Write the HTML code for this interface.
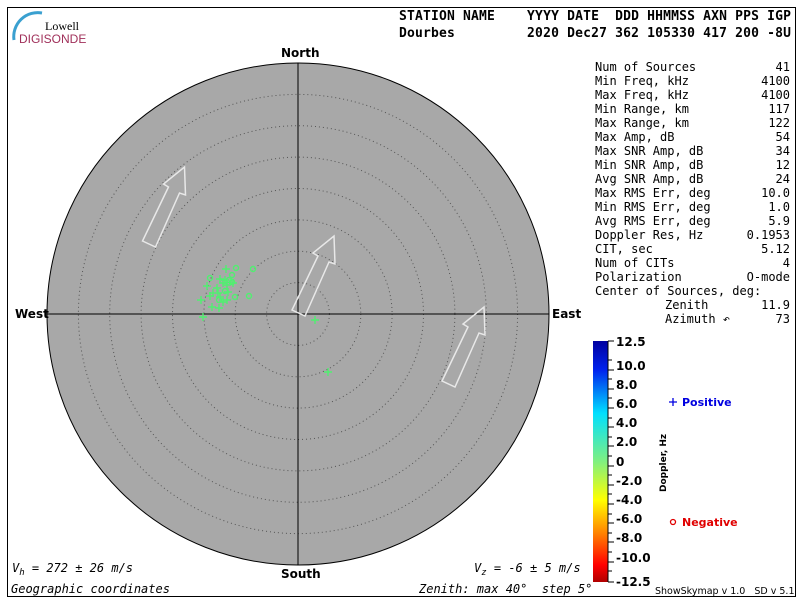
<!DOCTYPE html>
<html><head><style>
body{margin:0;width:800px;height:600px;background:#fff;overflow:hidden}
svg text{font-family:"DejaVu Sans Mono","Liberation Mono",monospace;font-size:12px;fill:#000;white-space:pre}
</style></head><body>
<svg width="800" height="600" xmlns="http://www.w3.org/2000/svg" xml:space="preserve">
<defs>
<linearGradient id="cb" x1="0" y1="0" x2="0" y2="1">
<stop offset="0" stop-color="#0000a0"/><stop offset="0.12" stop-color="#0022ee"/>
<stop offset="0.3" stop-color="#00e0ff"/><stop offset="0.5" stop-color="#80f080"/>
<stop offset="0.66" stop-color="#ffff00"/><stop offset="0.8" stop-color="#ff8000"/>
<stop offset="0.93" stop-color="#ff0000"/><stop offset="1" stop-color="#b00000"/>
</linearGradient>
<g id="arr"><polygon points="-6,-3 7,3 31,-51 37,-49 36,-77 15,-60 20,-57" fill="none" stroke="#e8e8e8" stroke-width="1.5"/></g>
</defs>
<rect x="7.5" y="7.5" width="788" height="589" fill="none" stroke="#000"/>
<path d="M14,40 A24,24 0 0 1 42,13" fill="none" stroke="#3aa0d0" stroke-width="3"/>
<text x="45" y="30" style="font-family:'Liberation Serif',serif;font-size:12px">Lowell</text>
<text x="19" y="43" style="font-family:'Liberation Sans',sans-serif;font-size:12px;fill:#a0305a">DIGISONDE</text>
<text x="399" y="20" style="font-weight:bold;font-size:13px" textLength="392">STATION NAME    YYYY DATE  DDD HHMMSS AXN PPS IGP</text>
<text x="399" y="37" style="font-weight:bold;font-size:13px" textLength="392">Dourbes         2020 Dec27 362 105330 417 200 -8U</text>
<circle cx="298" cy="314" r="251" fill="#a8a8a8" stroke="#000"/>
<g fill="none" stroke="#555" stroke-width="1" stroke-dasharray="1,3">
<circle cx="298" cy="314" r="31.4"/><circle cx="298" cy="314" r="62.8"/><circle cx="298" cy="314" r="94.1"/><circle cx="298" cy="314" r="125.5"/><circle cx="298" cy="314" r="156.9"/><circle cx="298" cy="314" r="188.3"/><circle cx="298" cy="314" r="219.6"/></g>
<line x1="47" y1="314" x2="549" y2="314" stroke="#000"/><line x1="298" y1="63" x2="298" y2="565" stroke="#000"/>
<g style="font-weight:bold"><text x="281" y="57" style="font-family:'DejaVu Sans',sans-serif;font-weight:bold">North</text>
<text x="281" y="578" style="font-family:'DejaVu Sans',sans-serif;font-weight:bold">South</text>
<text x="15" y="318" style="font-family:'DejaVu Sans',sans-serif;font-weight:bold">West</text>
<text x="552" y="318" style="font-family:'DejaVu Sans',sans-serif;font-weight:bold">East</text></g>
<use href="#arr" x="148.5" y="244"/><use href="#arr" x="298" y="313"/><use href="#arr" x="448" y="384"/>
<g stroke="#50f070" stroke-width="1.4" fill="none">
<path d="M222,269h8M226,265v8 M216,279h8M220,275v8 M203,286h8M207,282v8 M219,283h8M223,279v8 M223,285h8M227,281v8 M229,283h8M233,279v8 M221,280h8M225,276v8 M209,293h8M213,289v8 M214,293h8M218,289v8 M224,292h8M228,288v8 M206,296h8M210,292v8 M216,297h8M220,293v8 M197,300h8M201,296v8 M219,302h8M223,298v8 M208,307h8M212,303v8 M215,308h8M219,304v8 M199,317h8M203,313v8 M311,320h8M315,316v8 M324,372h8M328,368v8 M213,288h8M217,284v8 M223,300h8M227,296v8"/>
<circle cx="236" cy="268" r="2.5"/><circle cx="253" cy="269" r="2.5"/><circle cx="232" cy="275" r="2.5"/><circle cx="210" cy="278" r="2.5"/><circle cx="229" cy="280" r="2.5"/><circle cx="232" cy="282" r="2.5"/><circle cx="249" cy="296" r="2.5"/><circle cx="235" cy="297" r="2.5"/><circle cx="225" cy="291" r="2.5"/><circle cx="219" cy="300" r="2.5"/>
</g>
<g style="font-size:11.5px">
<text x="595" y="71">Num of Sources</text><text x="790" y="71" text-anchor="end">41</text>
<text x="595" y="85">Min Freq, kHz</text><text x="790" y="85" text-anchor="end">4100</text>
<text x="595" y="99">Max Freq, kHz</text><text x="790" y="99" text-anchor="end">4100</text>
<text x="595" y="113">Min Range, km</text><text x="790" y="113" text-anchor="end">117</text>
<text x="595" y="127">Max Range, km</text><text x="790" y="127" text-anchor="end">122</text>
<text x="595" y="141">Max Amp, dB</text><text x="790" y="141" text-anchor="end">54</text>
<text x="595" y="155">Max SNR Amp, dB</text><text x="790" y="155" text-anchor="end">34</text>
<text x="595" y="169">Min SNR Amp, dB</text><text x="790" y="169" text-anchor="end">12</text>
<text x="595" y="183">Avg SNR Amp, dB</text><text x="790" y="183" text-anchor="end">24</text>
<text x="595" y="197">Max RMS Err, deg</text><text x="790" y="197" text-anchor="end">10.0</text>
<text x="595" y="211">Min RMS Err, deg</text><text x="790" y="211" text-anchor="end">1.0</text>
<text x="595" y="225">Avg RMS Err, deg</text><text x="790" y="225" text-anchor="end">5.9</text>
<text x="595" y="239">Doppler Res, Hz</text><text x="790" y="239" text-anchor="end">0.1953</text>
<text x="595" y="253">CIT, sec</text><text x="790" y="253" text-anchor="end">5.12</text>
<text x="595" y="267">Num of CITs</text><text x="790" y="267" text-anchor="end">4</text>
<text x="595" y="281">Polarization</text><text x="790" y="281" text-anchor="end">O-mode</text>
<text x="595" y="295">Center of Sources, deg:</text>
<text x="665" y="309">Zenith</text><text x="790" y="309" text-anchor="end">11.9</text>
<text x="665" y="323">Azimuth ↶</text><text x="790" y="323" text-anchor="end">73</text>
</g>
<rect x="593" y="341" width="15" height="241" fill="url(#cb)"/>
<line x1="608" y1="341" x2="608" y2="582" stroke="#000"/>
<g stroke="#000"><path d="M608,341h6M608,360h4M608,370h6M608,379h4M608,389h6M608,398h4M608,408h6M608,418h4M608,427h6M608,437h4M608,446h6M608,456h4M608,466h6M608,475h4M608,485h6M608,494h4M608,504h6M608,514h4M608,523h6M608,533h4M608,542h6M608,552h4M608,562h6M608,571h4M608,582h6"/></g>
<g style="font-family:'DejaVu Sans',sans-serif;font-weight:bold;font-size:12px">
<text x="616" y="346" style="font-family:'DejaVu Sans',sans-serif">12.5</text><text x="616" y="370" style="font-family:'DejaVu Sans',sans-serif">10.0</text><text x="616" y="389" style="font-family:'DejaVu Sans',sans-serif">8.0</text><text x="616" y="408" style="font-family:'DejaVu Sans',sans-serif">6.0</text><text x="616" y="427" style="font-family:'DejaVu Sans',sans-serif">4.0</text><text x="616" y="446" style="font-family:'DejaVu Sans',sans-serif">2.0</text><text x="616" y="466" style="font-family:'DejaVu Sans',sans-serif">0</text><text x="616" y="485" style="font-family:'DejaVu Sans',sans-serif">-2.0</text><text x="616" y="504" style="font-family:'DejaVu Sans',sans-serif">-4.0</text><text x="616" y="523" style="font-family:'DejaVu Sans',sans-serif">-6.0</text><text x="616" y="542" style="font-family:'DejaVu Sans',sans-serif">-8.0</text><text x="616" y="562" style="font-family:'DejaVu Sans',sans-serif">-10.0</text><text x="616" y="586" style="font-family:'DejaVu Sans',sans-serif">-12.5</text>
<text x="0" y="0" transform="translate(666,492) rotate(-90)" style="font-family:'DejaVu Sans',sans-serif;font-size:9px">Doppler, Hz</text>
<text x="682" y="406" style="font-family:'DejaVu Sans',sans-serif;fill:#0000e0;font-size:11px">Positive</text>
<text x="682" y="526" style="font-family:'DejaVu Sans',sans-serif;fill:#e00000;font-size:11px">Negative</text>
</g>
<path d="M669,402h8M673,398v8" stroke="#0000e0" stroke-width="1.3"/>
<circle cx="673" cy="522" r="2.5" fill="none" stroke="#e00000" stroke-width="1.3"/>
<text x="12" y="572" style="font-style:italic">V<tspan style="font-size:9px" dy="3">h</tspan><tspan dy="-3"> = 272 ± 26 m/s</tspan></text>
<text x="474" y="572" style="font-style:italic">V<tspan style="font-size:9px" dy="3">z</tspan><tspan dy="-3"> = -6 ± 5 m/s</tspan></text>
<text x="11" y="593" style="font-style:italic">Geographic coordinates</text>
<text x="419" y="593" style="font-style:italic">Zenith: max 40°  step 5°</text>
<text x="655" y="594" style="font-family:'DejaVu Sans',sans-serif;font-size:9.5px">ShowSkymap v 1.0   SD v 5.1</text>
</svg>
</body></html>
